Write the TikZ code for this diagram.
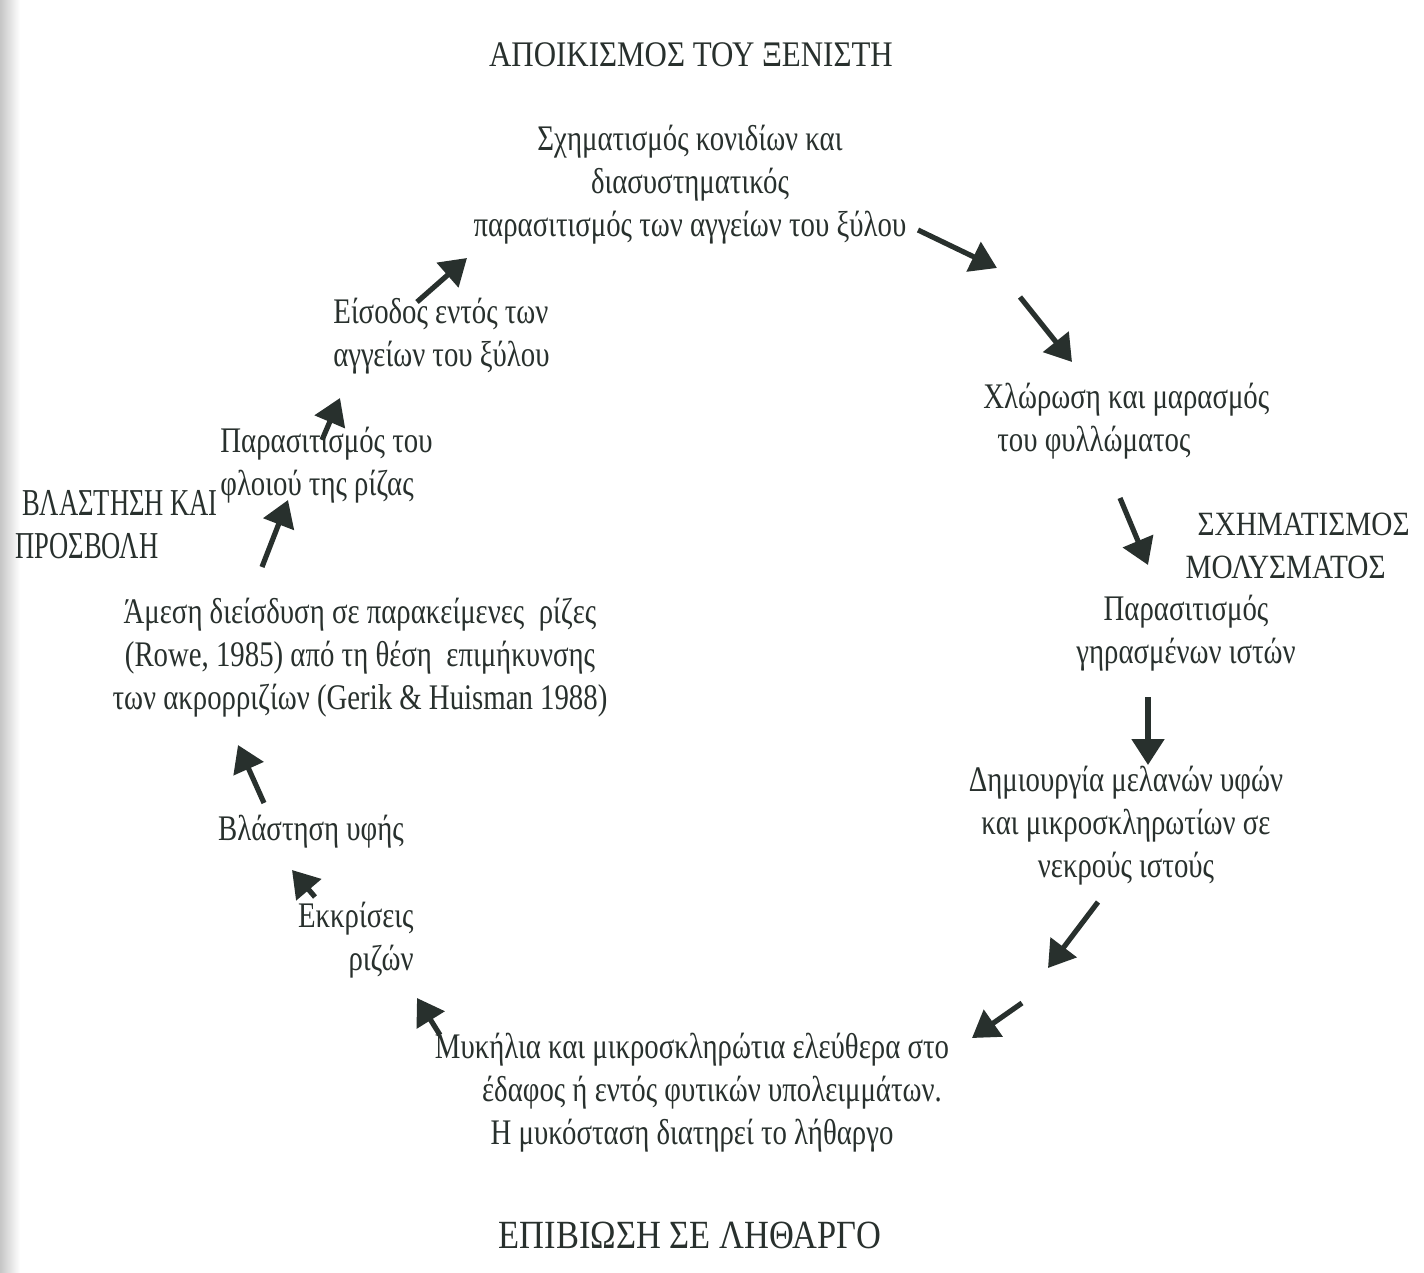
\documentclass[tikz,border=0pt]{standalone}
\usepackage{fontspec}
\newfontfamily\bodyfont{Liberation Serif}[FakeStretch=0.80]
\newfontfamily\capsfont{Liberation Serif}[FakeStretch=0.86]
\newfontfamily\narrowcaps{Liberation Serif}[FakeStretch=0.70]
\usetikzlibrary{arrows.meta, positioning}
\definecolor{ink}{RGB}{40,48,45}
\tikzset{
every node/.style={text=ink, inner sep=0pt}, % scan type colour
stage/.style={align=center, font=\bodyfont\fontsize{18pt}{21.5pt}\selectfont}, % a step of the cycle
phase/.style={align=center, font=\capsfont\fontsize{18pt}{21.5pt}\selectfont}, % capital headings
cyc/.style={draw=ink, line width=2.6pt, -{Triangle[length=13pt,width=16pt]}}, % the fat arrows
}

\begin{document}
\begin{tikzpicture}[x=0.5pt, y=-0.5pt]
\useasboundingbox (0,0) rectangle (1424,1273);
\shade[left color=gray!45, right color=white] (0,0) rectangle (20,1273);

% headings
\node[phase] (colon) at (691,55) {ΑΠΟΙΚΙΣΜΟΣ ΤΟΥ ΞΕΝΙΣΤΗ};
\node[phase, align=right, anchor=east, font=\capsfont\fontsize{17pt}{21.5pt}\selectfont] (infect) at (1410,546) {ΣΧΗΜΑΤΙΣΜΟΣ\\ΜΟΛΥΣΜΑΤΟΣ\rule{12pt}{0pt}};
\node[phase, font=\capsfont\fontsize{20pt}{21.5pt}\selectfont] (dormant) at (690,1235) {ΕΠΙΒΙΩΣΗ ΣΕ ΛΗΘΑΡΓΟ};
\node[phase, align=left, anchor=west, font=\narrowcaps\fontsize{19pt}{21.5pt}\selectfont] (attack) at (15,525) {\ ΒΛΑΣΤΗΣΗ ΚΑΙ\\ΠΡΟΣΒΟΛΗ};

% stages
\node[stage] (conid) at (690,185) {Σχηματισμός κονιδίων και\\διασυστηματικός\\παρασιτισμός των αγγείων του ξύλου};
\node[stage, align=left, anchor=west] (chlor) at (983,421) {Χλώρωση και μαρασμός\\\hspace{7pt}του φυλλώματος};
\node[stage] (aged) at (1186,633) {Παρασιτισμός\\γηρασμένων ιστών};
\node[stage] (dark) at (1126,826) {Δημιουργία μελανών υφών\\και μικροσκληρωτίων σε\\νεκρούς ιστούς};
\node[stage] (myc) at (692,1093) {Μυκήλια και μικροσκληρώτια ελεύθερα στο\\\hspace{20pt}έδαφος ή εντός φυτικών υπολειμμάτων.\\Η μυκόσταση διατηρεί το λήθαργο};
\node[stage, align=right, anchor=east] (exud) at (414,940) {Εκκρίσεις\\ριζών};
\node[stage] (germ) at (311,832) {Βλάστηση υφής};
\node[stage] (direct) at (360,658) {Άμεση διείσδυση σε παρακείμενες\ \ ρίζες\\(Rowe, 1985) από τη θέση\ \ επιμήκυνσης\\των ακρορριζίων (Gerik \& Huisman 1988)};
\node[stage, align=left, anchor=west] (cortex) at (220,465) {Παρασιτισμός του\\φλοιού της ρίζας};
\node[stage, align=left, anchor=west] (entry) at (333,336) {Είσοδος εντός των\\αγγείων του ξύλου};

% arrow ends
\coordinate (a1_s) at (918,230);   \coordinate (a1_e) at (997,268);
\coordinate (a2_s) at (1020,297);  \coordinate (a2_e) at (1072,362);
\coordinate (a3_s) at (1120,498);  \coordinate (a3_e) at (1148,565);
\coordinate (a4_s) at (1148,697);  \coordinate (a4_e) at (1148,765);
\coordinate (a5_s) at (1098,902);  \coordinate (a5_e) at (1048,968);
\coordinate (a6_s) at (1022,1003); \coordinate (a6_e) at (972,1038);
\coordinate (a7_s) at (440,1035);  \coordinate (a7_e) at (417,998);
\coordinate (a8_s) at (315,897);   \coordinate (a8_e) at (292,870);
\coordinate (a9_s) at (264,803);   \coordinate (a9_e) at (238,745);
\coordinate (a10_s) at (262,567);  \coordinate (a10_e) at (288,500);
\coordinate (a11_s) at (322,440);  \coordinate (a11_e) at (340,398);
\coordinate (a12_s) at (417,302);  \coordinate (a12_e) at (467,258);

\foreach \i in {1,...,12}
    \draw[cyc] (a\i_s) -- (a\i_e);
\end{tikzpicture}
\end{document}
